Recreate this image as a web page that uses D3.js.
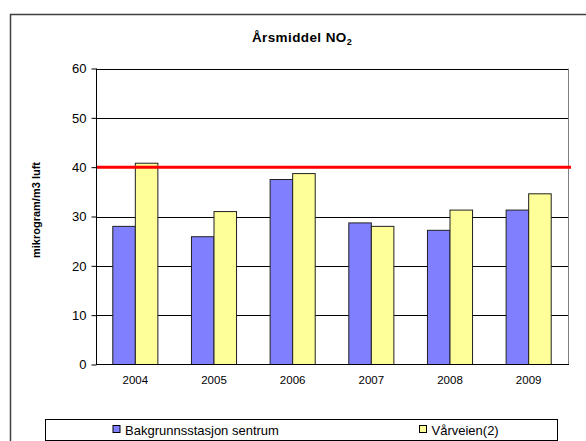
<!DOCTYPE html>
<html>
<head>
<meta charset="utf-8">
<script src="https://cdn.jsdelivr.net/npm/d3@7"></script>
<style>
    body { margin: 0; background: white; }
    text { font-family: Arial, 'Liberation Sans', sans-serif; }
</style>
</head>
<body>
<div id="graphContainer"></div>
<script>
const years = ['2004', '2005', '2006', '2007', '2008', '2009'];
const seriesNames = ['Bakgrunnsstasjon sentrum', 'Vårveien(2)'];
const bakgrunn = [28.0, 25.9, 37.5, 28.7, 27.2, 31.3];
const varveien = [40.8, 31.0, 38.7, 28.0, 31.3, 34.6];
const yTicks = [0, 10, 20, 30, 40, 50, 60];
const limitValue = 40;
const colors = ['#8080ff', '#ffff99'];

drawGraph();

function drawGraph() {
    const width = 586;
    const height = 441;
    const left = 96, right = 568, top = 68.5, bottom = 364.5;

    const svg = d3.select('#graphContainer')
        .append('svg')
        .attr('width', width)
        .attr('height', height)
        .style('background', 'white');

    // outer chart frame
    svg.append('path')
        .attr('d', 'M10.5,' + (height + 2) + 'V14.5H' + (width + 2))
        .attr('fill', 'none')
        .attr('stroke', '#404040')
        .attr('stroke-width', 1.5);

    svg.append('text')
        .attr('x', 302)
        .attr('y', 42)
        .attr('text-anchor', 'middle')
        .style('font-size', '13.5px')
        .style('font-weight', 'bold')
        .style('letter-spacing', '0.4px')
        .text('Årsmiddel NO')
        .append('tspan')
        .attr('dy', 3)
        .style('font-size', '9px')
        .text('2');

    const x0 = d3.scaleBand()
        .domain(years)
        .range([left, right])
        .paddingInner(0.427)
        .paddingOuter(0.2135);

    const x1 = d3.scaleBand()
        .domain([0, 1])
        .range([0, x0.bandwidth()]);

    const y = d3.scaleLinear()
        .domain([0, 60])
        .range([bottom, top]);

    // gridlines
    svg.append('g')
        .selectAll('line')
        .data(yTicks.filter(function (d) { return d > 0; }))
        .enter()
        .append('line')
        .attr('x1', left)
        .attr('x2', right)
        .attr('y1', function (d) { return Math.round(y(d)) + 0.5; })
        .attr('y2', function (d) { return Math.round(y(d)) + 0.5; })
        .attr('stroke', 'black')
        .attr('stroke-width', 1);

    // right plot border
    svg.append('line')
        .attr('x1', right + 0.5).attr('x2', right + 0.5)
        .attr('y1', top).attr('y2', bottom)
        .attr('stroke', '#808080');

    const rows = years.map(function (yr, i) {
        return { year: yr, values: [bakgrunn[i], varveien[i]] };
    });

    const groups = svg.append('g')
        .selectAll('g')
        .data(rows)
        .enter()
        .append('g')
        .attr('transform', function (d) {
            return 'translate(' + x0(d.year) + ',0)';
        });

    groups.selectAll('rect')
        .data(function (d) {
            return d.values.map(function (v, k) { return { k: k, v: v }; });
        })
        .enter()
        .append('rect')
        .attr('x', function (d) { return x1(d.k); })
        .attr('y', function (d) { return y(d.v); })
        .attr('width', x1.bandwidth())
        .attr('height', function (d) { return y(0) - y(d.v); })
        .attr('fill', function (d) { return colors[d.k]; })
        .attr('stroke', '#202020')
        .attr('stroke-width', 1);

    // limit line
    svg.append('line')
        .attr('x1', left)
        .attr('x2', right + 3)
        .attr('y1', y(limitValue))
        .attr('y2', y(limitValue))
        .attr('stroke', 'red')
        .attr('stroke-width', 3);

    const yAxis = svg.append('g')
        .attr('transform', 'translate(' + (left + 0.5) + ',0)')
        .call(d3.axisLeft(y).tickValues(yTicks).tickSize(5).tickPadding(5));
    yAxis.selectAll('text')
        .style('font-size', '13px')
        .style('font-family', 'Arial, Liberation Sans, sans-serif')
        .attr('fill', 'black');
    yAxis.selectAll('line').attr('stroke', 'black');
    yAxis.select('.domain').attr('d', 'M0,' + top + 'V' + bottom).attr('stroke', 'black');

    const xAxis = svg.append('g')
        .attr('transform', 'translate(0,' + bottom + ')')
        .call(d3.axisBottom(x0).tickSize(0).tickPadding(11));
    xAxis.selectAll('text')
        .style('font-size', '11.5px')
        .style('font-family', 'Arial, Liberation Sans, sans-serif')
        .attr('fill', 'black');
    xAxis.select('.domain').attr('d', 'M' + left + ',0H' + (right + 1)).attr('stroke', 'black');

    svg.append('text')
        .attr('transform', 'translate(40,210) rotate(-90)')
        .attr('text-anchor', 'middle')
        .style('font-size', '11px')
        .style('font-weight', 'bold')
        .text('mikrogram/m3 luft');

    drawLegend(svg);
}

function drawLegend(svg) {
    svg.append('rect')
        .attr('x', 45.5)
        .attr('y', 419.5)
        .attr('width', 512)
        .attr('height', 21)
        .attr('fill', 'white')
        .attr('stroke', 'black');

    const positions = [113, 419.5];

    const items = svg.append('g')
        .selectAll('g')
        .data(seriesNames)
        .enter()
        .append('g')
        .attr('transform', function (d, i) {
            return 'translate(' + positions[i] + ',425.5)';
        });

    items.append('rect')
        .attr('width', 7)
        .attr('height', 7)
        .attr('fill', function (d, i) { return colors[i]; })
        .attr('stroke', 'black');

    items.append('text')
        .attr('x', 12)
        .attr('y', 9)
        .style('font-size', '13px')
        .text(function (d) { return d; });
}
</script>
</body>
</html>
